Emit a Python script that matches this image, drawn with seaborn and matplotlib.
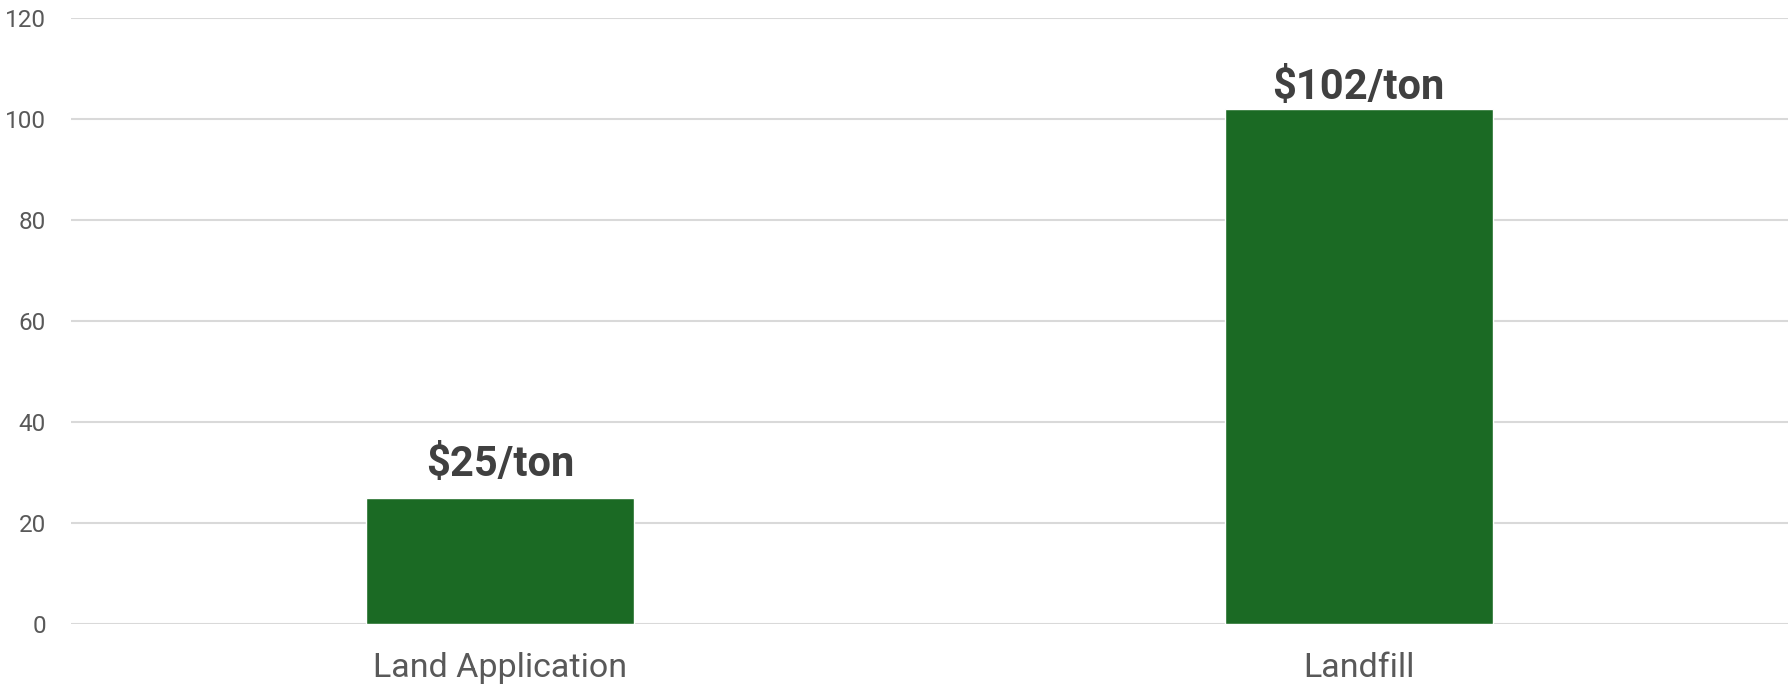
import matplotlib
import matplotlib.pyplot as plt
import seaborn as sns

matplotlib.use('Agg')

# data
categories = ['Land Application', 'Landfill']
cost_per_ton = [25, 102]
bar_labels = ['$25/ton', '$102/ton']
label_offsets = [9, 1]  # points above bar top

sns.set_style('white')
plt.rcParams['font.family'] = ['Roboto', 'DejaVu Sans']

fig = plt.figure(figsize=(17.89, 6.88), dpi=100)
ax = fig.add_axes([71 / 1789, 1 - 624 / 688, 1717 / 1789, 606 / 688])

sns.barplot(x=categories, y=cost_per_ton, color='#1B6A24', saturation=1,
            width=0.312, ax=ax, zorder=3)

# value labels above each bar
for i, (val, txt, off) in enumerate(zip(cost_per_ton, bar_labels, label_offsets)):
    ax.annotate(txt, (i, val), xytext=(0, off), textcoords='offset points',
                ha='center', va='bottom', fontsize=30, fontweight='bold',
                color='#404040')

ax.set_xlim(-0.5, 1.5)
ax.set_ylim(0, 120)
ax.set_yticks(range(0, 121, 20))
ax.yaxis.grid(True, color='#D9D9D9', linewidth=1.5, zorder=0)
ax.set_axisbelow(True)
for s in ax.spines.values():
    s.set_visible(False)

ax.tick_params(axis='y', length=0, pad=18, labelsize=17.5, labelcolor='#595959')
ax.tick_params(axis='x', length=0, pad=20, labelsize=24.5, labelcolor='#595959')
ax.set_xlabel('')
ax.set_ylabel('')

plt.savefig('out.png', dpi=100)
